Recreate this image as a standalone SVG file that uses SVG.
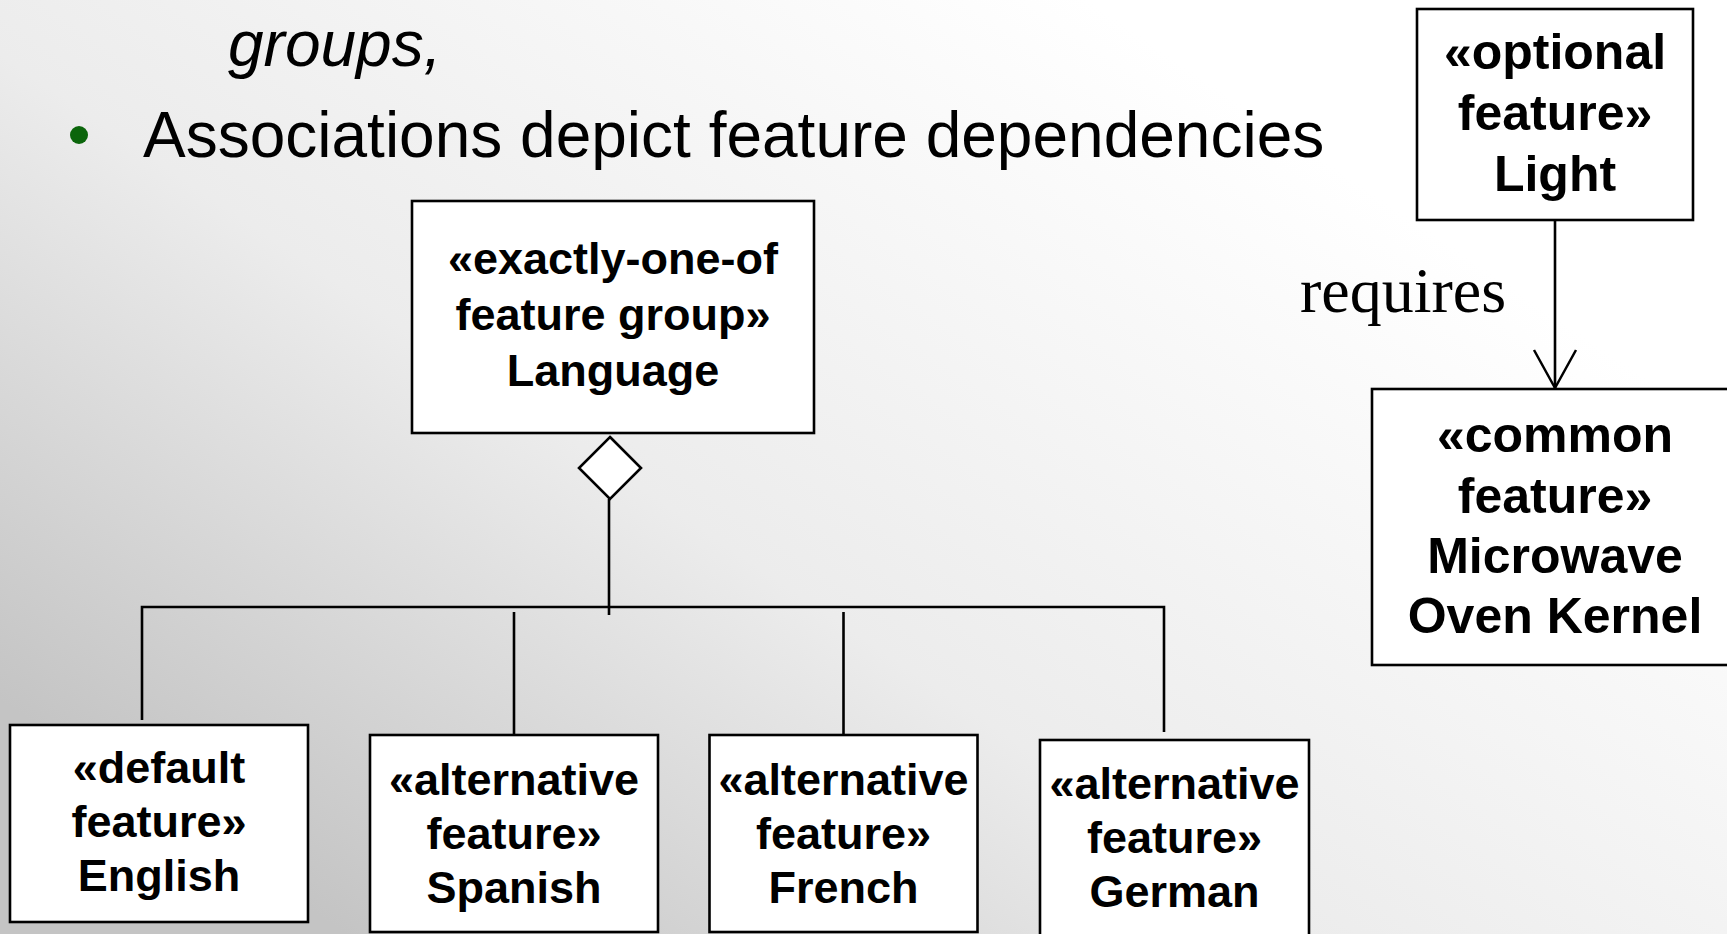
<svg xmlns="http://www.w3.org/2000/svg" width="1727" height="934" viewBox="0 0 1727 934">
  <defs>
    <linearGradient id="bg" x1="0" y1="0.75" x2="0.75" y2="0.15">
      <stop offset="0" stop-color="#c4c4c4"/>
      <stop offset="0.45" stop-color="#ececec"/>
      <stop offset="1" stop-color="#ffffff"/>
    </linearGradient>
    <!-- open "requires" arrowhead, drawn pointing along +x so orient=auto turns it with the line -->
    <marker id="open-arrow" markerUnits="userSpaceOnUse" markerWidth="42" markerHeight="46" refX="39" refY="22" orient="auto" viewBox="0 0 42 46" overflow="visible">
      <path d="M1,1 L39,22 L1,43" fill="none" stroke="#000" stroke-width="2.5"/>
    </marker>
  </defs>
  <style>
    .box { fill: #ffffff; stroke: #000000; stroke-width: 2.6; }
    .lbl { font-family: "Liberation Sans", Arial, sans-serif; font-weight: bold; fill: #000; text-anchor: middle; }
    .s45 { font-size: 45px; }
    .s50 { font-size: 50px; }
    .line { stroke: #000; stroke-width: 2.6; fill: none; }
    .body { font-family: "Liberation Sans", Arial, sans-serif; font-size: 64px; fill: #000; }
  </style>

  <rect x="0" y="0" width="1727" height="934" fill="url(#bg)"/>

  <!-- slide body text -->
  <text class="body" x="228" y="66" font-style="italic">groups,</text>
  <circle cx="79" cy="135" r="9" fill="#0b650b"/>
  <text class="body" x="143" y="157">Associations depict feature dependencies</text>

  <!-- connectors -->
  <g id="connectors">
    <polygon points="610,437 641,468 610,499 579,468" fill="#ffffff" stroke="#000" stroke-width="2.6"/>
    <line class="line" x1="609" y1="499" x2="609" y2="615"/>
    <polyline class="line" points="142,720 142,607 1164,607 1164,732"/>
    <line class="line" x1="514" y1="612" x2="514" y2="735"/>
    <line class="line" x1="843.5" y1="612" x2="843.5" y2="735"/>
    <line class="line" x1="1555" y1="220" x2="1555" y2="388" marker-end="url(#open-arrow)"/>
    <text x="1300" y="312" font-family="Liberation Serif, 'Times New Roman', serif" font-size="64" fill="#000">requires</text>
  </g>

  <g id="node-language">
    <rect class="box" x="412" y="201" width="402" height="232"/>
    <text class="lbl s45" x="613" y="274">«exactly-one-of</text>
    <text class="lbl s45" x="613" y="330">feature group»</text>
    <text class="lbl s45" x="613" y="386">Language</text>
  </g>

  <g id="node-light">
    <rect class="box" x="1417" y="9" width="276" height="211"/>
    <text class="lbl s50" x="1555" y="69">«optional</text>
    <text class="lbl s50" x="1555" y="130">feature»</text>
    <text class="lbl s50" x="1555" y="191">Light</text>
  </g>

  <g id="node-kernel">
    <rect class="box" x="1372" y="389" width="366" height="276"/>
    <text class="lbl s50" x="1555" y="452">«common</text>
    <text class="lbl s50" x="1555" y="513">feature»</text>
    <text class="lbl s50" x="1555" y="573">Microwave</text>
    <text class="lbl s50" x="1555" y="633">Oven Kernel</text>
  </g>

  <g id="node-english">
    <rect class="box" x="10" y="725" width="298" height="197"/>
    <text class="lbl s45" x="159" y="783">«default</text>
    <text class="lbl s45" x="159" y="837">feature»</text>
    <text class="lbl s45" x="159" y="891">English</text>
  </g>

  <g id="node-spanish">
    <rect class="box" x="370" y="735" width="288" height="197"/>
    <text class="lbl s45" x="514" y="795">«alternative</text>
    <text class="lbl s45" x="514" y="849">feature»</text>
    <text class="lbl s45" x="514" y="903">Spanish</text>
  </g>

  <g id="node-french">
    <rect class="box" x="709.5" y="735" width="268" height="197"/>
    <text class="lbl s45" x="843.5" y="795">«alternative</text>
    <text class="lbl s45" x="843.5" y="849">feature»</text>
    <text class="lbl s45" x="843.5" y="903">French</text>
  </g>

  <g id="node-german">
    <rect class="box" x="1040" y="740" width="269" height="205"/>
    <text class="lbl s45" x="1174.5" y="799">«alternative</text>
    <text class="lbl s45" x="1174.5" y="853">feature»</text>
    <text class="lbl s45" x="1174.5" y="907">German</text>
  </g>
</svg>
